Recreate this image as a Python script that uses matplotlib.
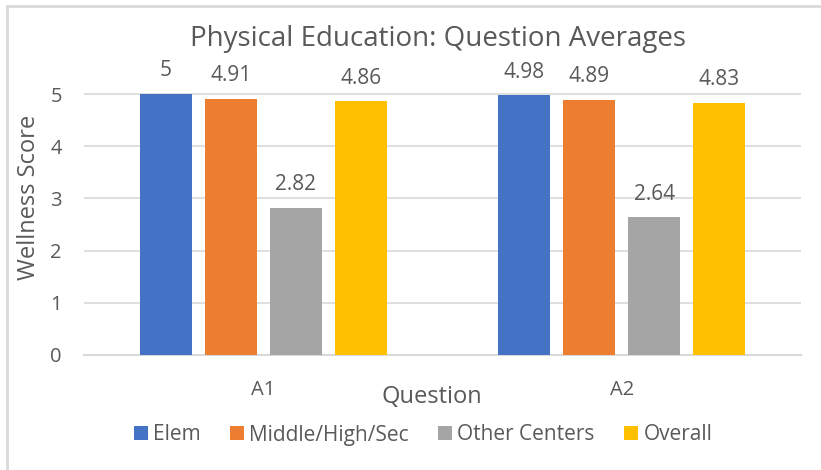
import matplotlib.pyplot as plt
import numpy as np
from matplotlib.patches import Rectangle

plt.rcParams['font.family'] = ['Open Sans', 'DejaVu Sans']

questions = ['A1', 'A2']
series = ['Elem', 'Middle/High/Sec', 'Other Centers', 'Overall']
values = {
    'Elem': [5, 4.98],
    'Middle/High/Sec': [4.91, 4.89],
    'Other Centers': [2.82, 2.64],
    'Overall': [4.86, 4.83],
}
colors = ['#4472C4', '#ED7D31', '#A5A5A5', '#FFC000']
txt = '#595959'

fig = plt.figure(figsize=(8.21, 4.70), dpi=100)
ax = fig.add_axes([84 / 821, 1 - 355 / 470, 717 / 821, 261 / 470 * 1.2])

x = np.arange(len(questions))
step = 0.181
width = 0.145
for i, s in enumerate(series):
    pos = x + (i - 1.5) * step
    bars = ax.bar(pos, values[s], width, color=colors[i], label=s, zorder=3)
    for b, v in zip(bars, values[s]):
        ax.annotate('%g' % v, (b.get_x() + b.get_width() / 2, v),
                    xytext=(0, 9), textcoords='offset points',
                    ha='center', va='bottom', fontsize=15, color=txt)

ax.set_xlim(-0.5, 1.5)
ax.set_ylim(0, 6)
ax.set_yticks(range(0, 6))
ax.set_xticks(x)
ax.set_xticklabels(questions)
ax.grid(axis='y', color='#D9D9D9', linewidth=1.2, zorder=0)
for sp in ['top', 'right', 'left']:
    ax.spines[sp].set_visible(False)
ax.spines['bottom'].set_color('#D9D9D9')
ax.spines['bottom'].set_linewidth(1.5)
ax.tick_params(axis='both', length=0, labelsize=14.5, colors=txt)
ax.tick_params(axis='y', pad=16)
ax.tick_params(axis='x', pad=18)

fig.text(29 / 821, 1 - 197 / 470, 'Wellness Score', rotation=90,
         ha='center', va='center', fontsize=17, color=txt)
fig.text(432 / 821, 1 - 397 / 470, 'Question',
         ha='center', va='center', fontsize=17, color=txt)
fig.text(438 / 821, 1 - 39 / 470, 'Physical Education: Question Averages',
         ha='center', va='center', fontsize=20, color=txt)

ax.legend(loc='center', bbox_to_anchor=(423 / 821, 1 - 435 / 470), bbox_transform=fig.transFigure,
          ncol=4, frameon=False, fontsize=15, labelcolor=txt, handlelength=0.68,
          handleheight=0.68, handletextpad=0.25, columnspacing=1.4)

fig.patches.append(Rectangle((7 / 821, -0.1), 1.0, 1 - 6 / 470 + 0.1, transform=fig.transFigure,
                             fill=False, edgecolor='#D9D9D9', linewidth=2))

plt.savefig('out.png', dpi=100)
